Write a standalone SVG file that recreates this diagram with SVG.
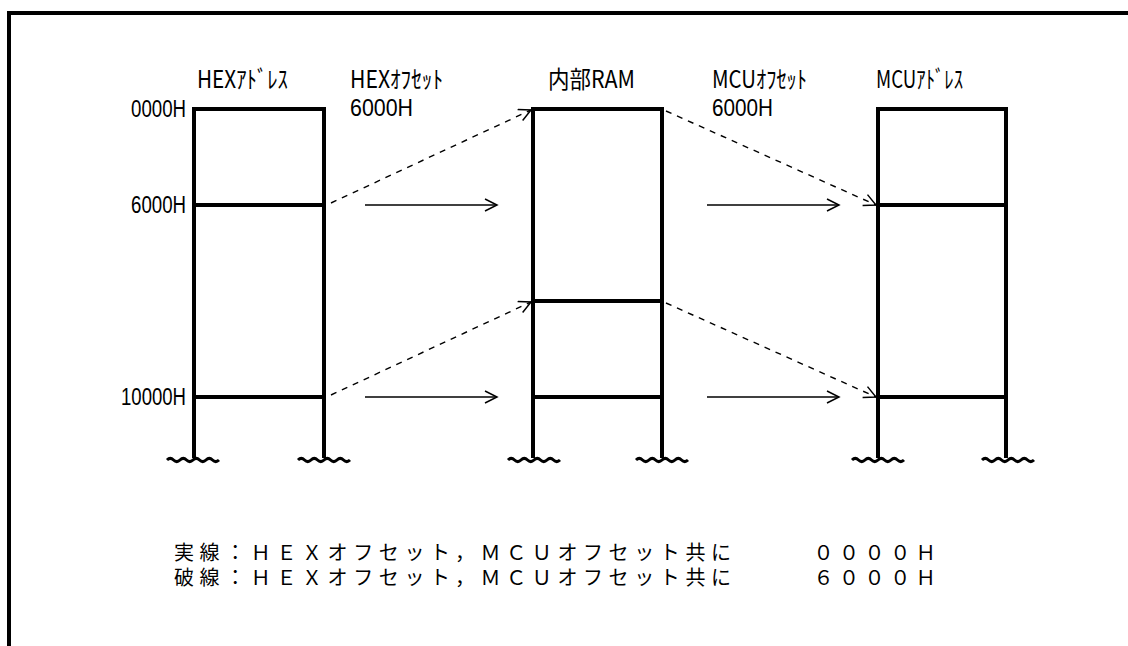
<svg xmlns="http://www.w3.org/2000/svg" width="1128" height="646" viewBox="0 0 1128 646">
<style>
.frame{fill:none;stroke:#000;stroke-width:4}
.box{fill:none;stroke:#000;stroke-width:4}
.wave{fill:none;stroke:#000;stroke-width:3}
.solid{fill:none;stroke:#000;stroke-width:1.5}
.dash{fill:none;stroke:#000;stroke-width:1.4;stroke-dasharray:6 6}
.hdr{font-family:"Noto Sans CJK JP","Liberation Sans",sans-serif;font-size:24px;fill:#000}
.addr{font-family:"Liberation Sans",Arial,sans-serif;font-size:23px;fill:#000}
.off{font-family:"Liberation Sans",Arial,sans-serif;font-size:24px;fill:#000}
.note{font-family:"Liberation Sans","Noto Sans CJK JP",sans-serif;font-size:20px;fill:#000;letter-spacing:5.6px}
</style>
<defs>
<marker id="ah" markerUnits="userSpaceOnUse" markerWidth="16" markerHeight="14" refX="13" refY="7" orient="auto">
<path d="M1,1 L13,7 L1,13" fill="none" stroke="#000" stroke-width="1.5"/>
</marker>
<path id="wv" d="M0,0 q3.25,-3.2 6.5,0 t6.5,0 t6.5,0 t6.5,0 t6.5,0 t6.5,0 t6.5,0 t6.5,0"/>
</defs>
<path class="frame" d="M9,646 V13 H1128"/>
<g id="hex-address">
<path class="box" d="M194,458 V109 H324 V458 M194,205 H324 M194,397 H324"/>
<use href="#wv" class="wave" x="167" y="460"/>
<use href="#wv" class="wave" x="298" y="460"/>
<text class="hdr" x="197" y="88" textLength="91" lengthAdjust="spacingAndGlyphs">HEXｱﾄﾞﾚｽ</text>
<text class="addr" x="131" y="117" textLength="55" lengthAdjust="spacingAndGlyphs">0000H</text>
<text class="addr" x="131" y="213" textLength="55" lengthAdjust="spacingAndGlyphs">6000H</text>
<text class="addr" x="121" y="405" textLength="65" lengthAdjust="spacingAndGlyphs">10000H</text>
</g>
<g id="hex-offset">
<text class="hdr" x="350" y="88" textLength="93" lengthAdjust="spacingAndGlyphs">HEXｵﾌｾｯﾄ</text>
<text class="off" x="350" y="116" textLength="63" lengthAdjust="spacingAndGlyphs">6000H</text>
</g>
<g id="internal-ram">
<path class="box" d="M533,458 V109 H662 V458 M533,301 H662 M533,397 H662"/>
<use href="#wv" class="wave" x="508" y="460"/>
<use href="#wv" class="wave" x="636" y="460"/>
<text class="hdr" x="548" y="88" textLength="87" lengthAdjust="spacingAndGlyphs">内部RAM</text>
</g>
<g id="mcu-offset">
<text class="hdr" x="712" y="88" textLength="95" lengthAdjust="spacingAndGlyphs">MCUｵﾌｾｯﾄ</text>
<text class="off" x="712" y="116" textLength="61" lengthAdjust="spacingAndGlyphs">6000H</text>
</g>
<g id="mcu-address">
<path class="box" d="M878,458 V109 H1006 V458 M878,205 H1006 M878,397 H1006"/>
<use href="#wv" class="wave" x="852" y="460"/>
<use href="#wv" class="wave" x="982" y="460"/>
<text class="hdr" x="876" y="88" textLength="87" lengthAdjust="spacingAndGlyphs">MCUｱﾄﾞﾚｽ</text>
</g>
<g id="connectors">
<line class="solid" x1="365" y1="205" x2="497" y2="205" marker-end="url(#ah)"/>
<line class="solid" x1="365" y1="397" x2="497" y2="397" marker-end="url(#ah)"/>
<line class="solid" x1="707" y1="205" x2="839" y2="205" marker-end="url(#ah)"/>
<line class="solid" x1="707" y1="397" x2="839" y2="397" marker-end="url(#ah)"/>
<line class="dash" x1="331" y1="203" x2="531" y2="110" marker-end="url(#ah)"/>
<line class="dash" x1="331" y1="395" x2="531" y2="302" marker-end="url(#ah)"/>
<line class="dash" x1="666" y1="111" x2="876" y2="205" marker-end="url(#ah)"/>
<line class="dash" x1="666" y1="303" x2="876" y2="397" marker-end="url(#ah)"/>
</g>
<g id="legend">
<text class="note" x="174" y="560">実線：ＨＥＸオフセット，ＭＣＵオフセット共に　　　００００Ｈ</text>
<text class="note" x="174" y="585">破線：ＨＥＸオフセット，ＭＣＵオフセット共に　　　６０００Ｈ</text>
</g>
</svg>
